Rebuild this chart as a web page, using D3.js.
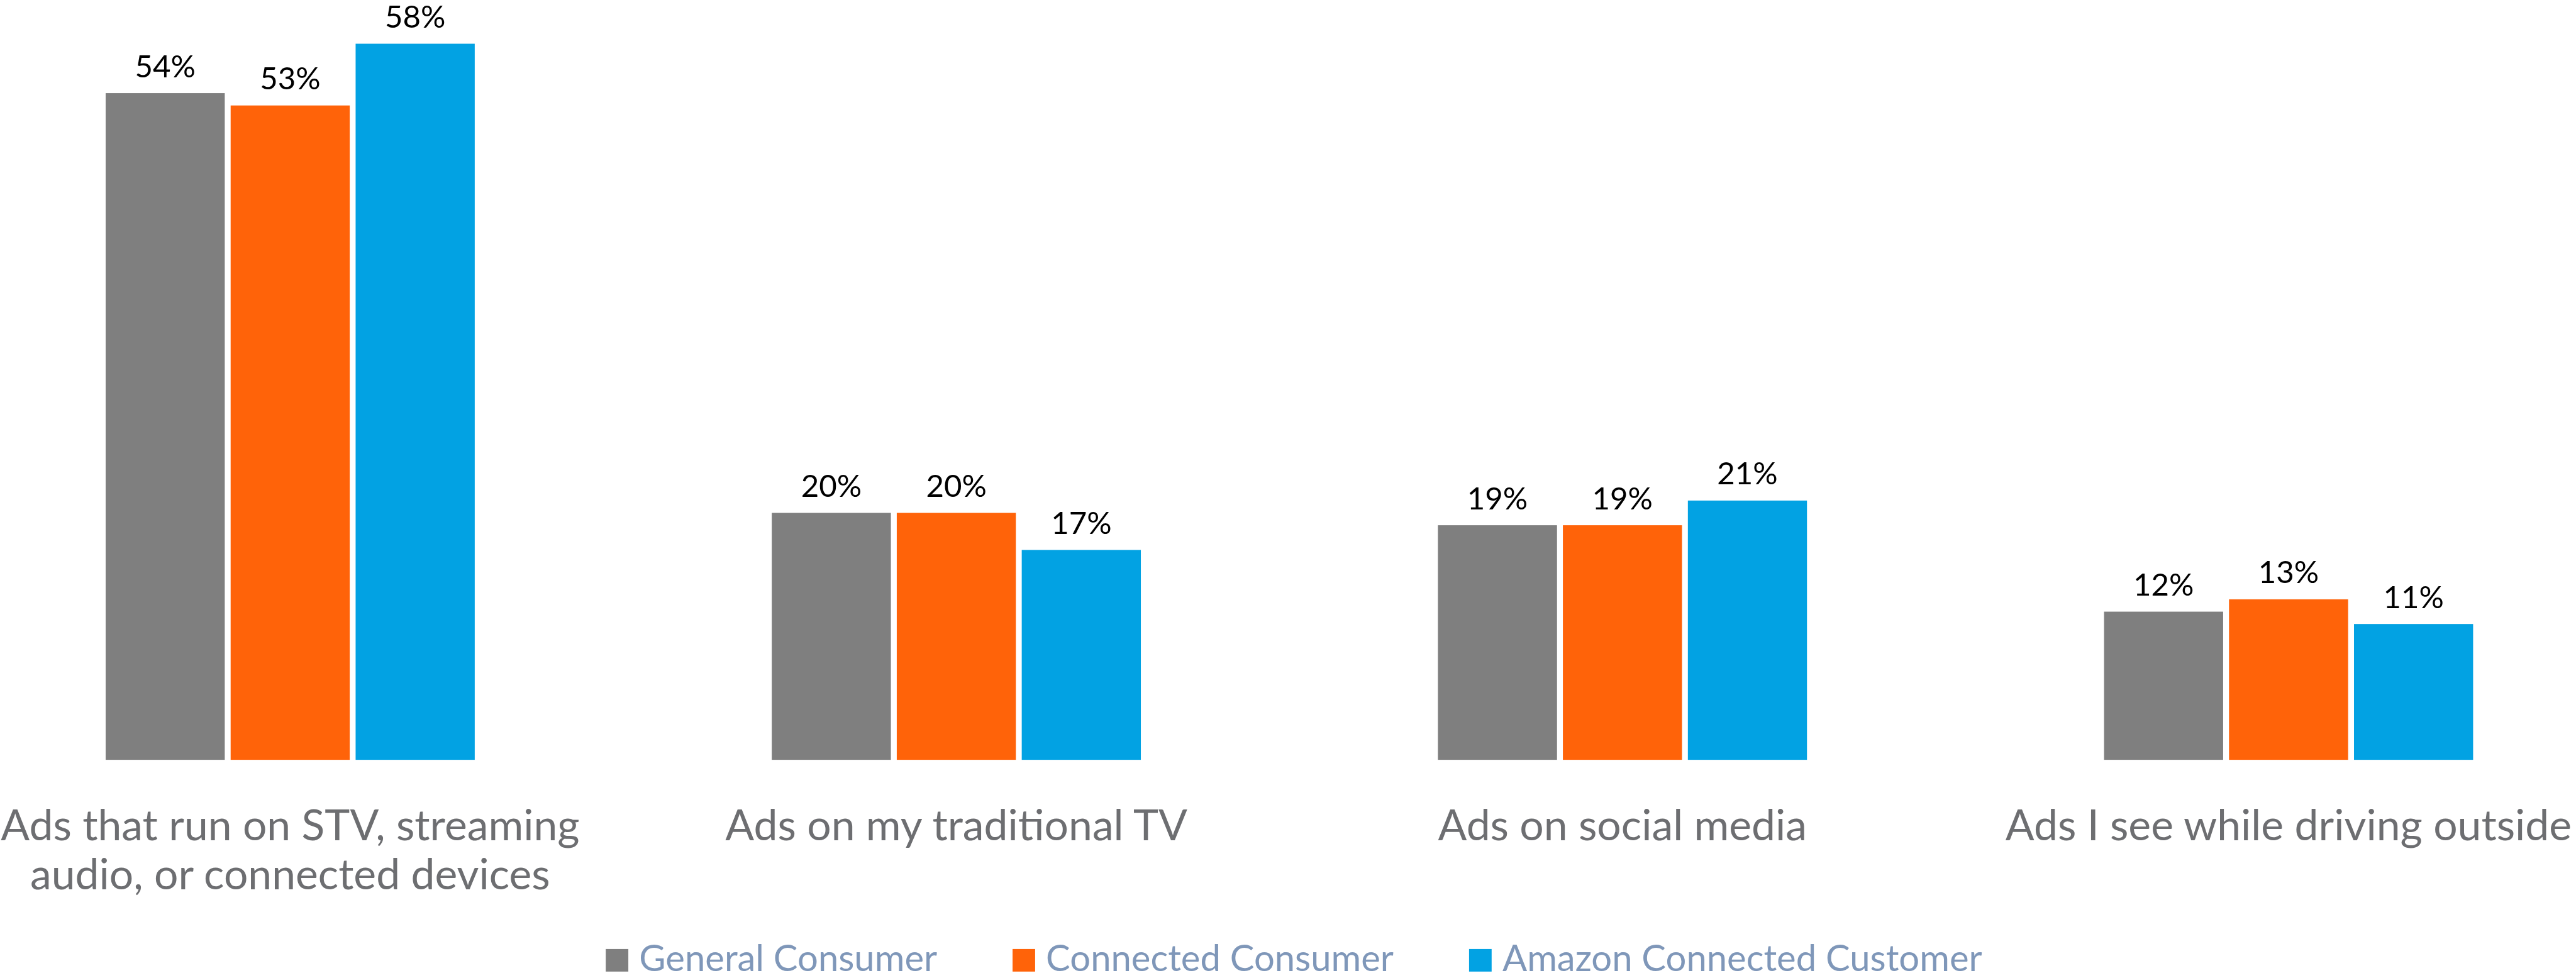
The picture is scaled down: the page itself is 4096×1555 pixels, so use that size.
<!DOCTYPE html>
<html>
<head>
<meta charset="utf-8">
<script src="https://cdn.jsdelivr.net/npm/d3@7"></script>
<style>
  html, body { margin: 0; padding: 0; background: #ffffff; }
  svg { display: block; }
</style>
</head>
<body>
<svg id="chart" width="4096" height="1555"></svg>
<script>
// Category labels (line breaks marked with \n)
const categories = [
  "Ads that run on STV, streaming\naudio, or connected devices",
  "Ads on my traditional TV",
  "Ads on social media",
  "Ads I see while driving outside"
];
const seriesNames = ["General Consumer", "Connected Consumer", "Amazon Connected Customer"];
const generalConsumer   = [54, 20, 19, 12];
const connectedConsumer = [53, 20, 19, 13];
const amazonConnected   = [58, 17, 21, 11];
const seriesColors = ["#7f7f7f", "#ff6309", "#02a2e3"];

const seriesValues = [generalConsumer, connectedConsumer, amazonConnected];

// Layout is expressed in a 4166 x 1582 design space and scaled to the page.
const S = 0.983;
const svg = d3.select("#chart");
const root = svg.append("g").attr("transform", `scale(${S})`);

const FONT = "Lato, 'Open Sans', sans-serif";

const x0 = d3.scalePoint().domain(categories).range([469.4, 3701.9]);
const x1 = d3.scaleBand().domain(seriesNames).range([-298.5, 298.5]).paddingInner(0.047);
const y = d3.scaleLinear().domain([0, 60]).range([1229, 1229 - 60 * 19.97]);

// Bars and value labels
const groups = root.selectAll("g.group")
  .data(categories)
  .join("g")
  .attr("class", "group")
  .attr("transform", d => `translate(${x0(d)},0)`);

const cells = groups.selectAll("g.cell")
  .data((c, ci) => seriesNames.map((s, si) => ({ series: s, si, value: seriesValues[si][ci] })))
  .join("g")
  .attr("class", "cell");

cells.append("rect")
  .attr("x", d => x1(d.series))
  .attr("width", x1.bandwidth())
  .attr("y", d => y(d.value))
  .attr("height", d => y(0) - y(d.value))
  .attr("fill", d => seriesColors[d.si]);

cells.append("text")
  .attr("x", d => x1(d.series) + x1.bandwidth() / 2)
  .attr("y", d => y(d.value) - 26)
  .attr("text-anchor", "middle")
  .attr("font-family", FONT)
  .attr("font-size", 50)
  .attr("fill", "#000000")
  .text(d => d.value + "%");

// Category axis labels
const catLabels = root.selectAll("text.cat")
  .data(categories)
  .join("text")
  .attr("class", "cat")
  .attr("x", d => x0(d))
  .attr("y", 1359)
  .attr("text-anchor", "middle")
  .attr("font-family", FONT)
  .attr("font-size", 69)
  .attr("fill", "#6d6e71");

catLabels.selectAll("tspan")
  .data(d => d.split("\n"))
  .join("tspan")
  .attr("x", function () { return x0(this.parentNode.__data__); })
  .attr("dy", (d, i) => i === 0 ? 0 : 79)
  .text(d => d);

// Legend, centred under the plot
const legend = root.append("g").attr("class", "legend");
const items = legend.selectAll("g.item")
  .data(seriesNames)
  .join("g")
  .attr("class", "item");

items.append("rect")
  .attr("y", 1535)
  .attr("width", 36.5)
  .attr("height", 36.5)
  .attr("fill", (d, i) => seriesColors[i]);

items.append("text")
  .attr("x", 54)
  .attr("y", 1571)
  .attr("font-family", FONT)
  .attr("font-size", 59)
  .attr("fill", "#7f97b9")
  .text(d => d);

let cursor = 0;
const offsets = [];
items.each(function () {
  offsets.push(cursor);
  const w = d3.select(this).select("text").node().getComputedTextLength();
  cursor += 54 + w + 122;
});
const total = cursor - 122;
const start = 2093 - total / 2;
items.attr("transform", (d, i) => `translate(${start + offsets[i]},0)`);
</script>
</body>
</html>
